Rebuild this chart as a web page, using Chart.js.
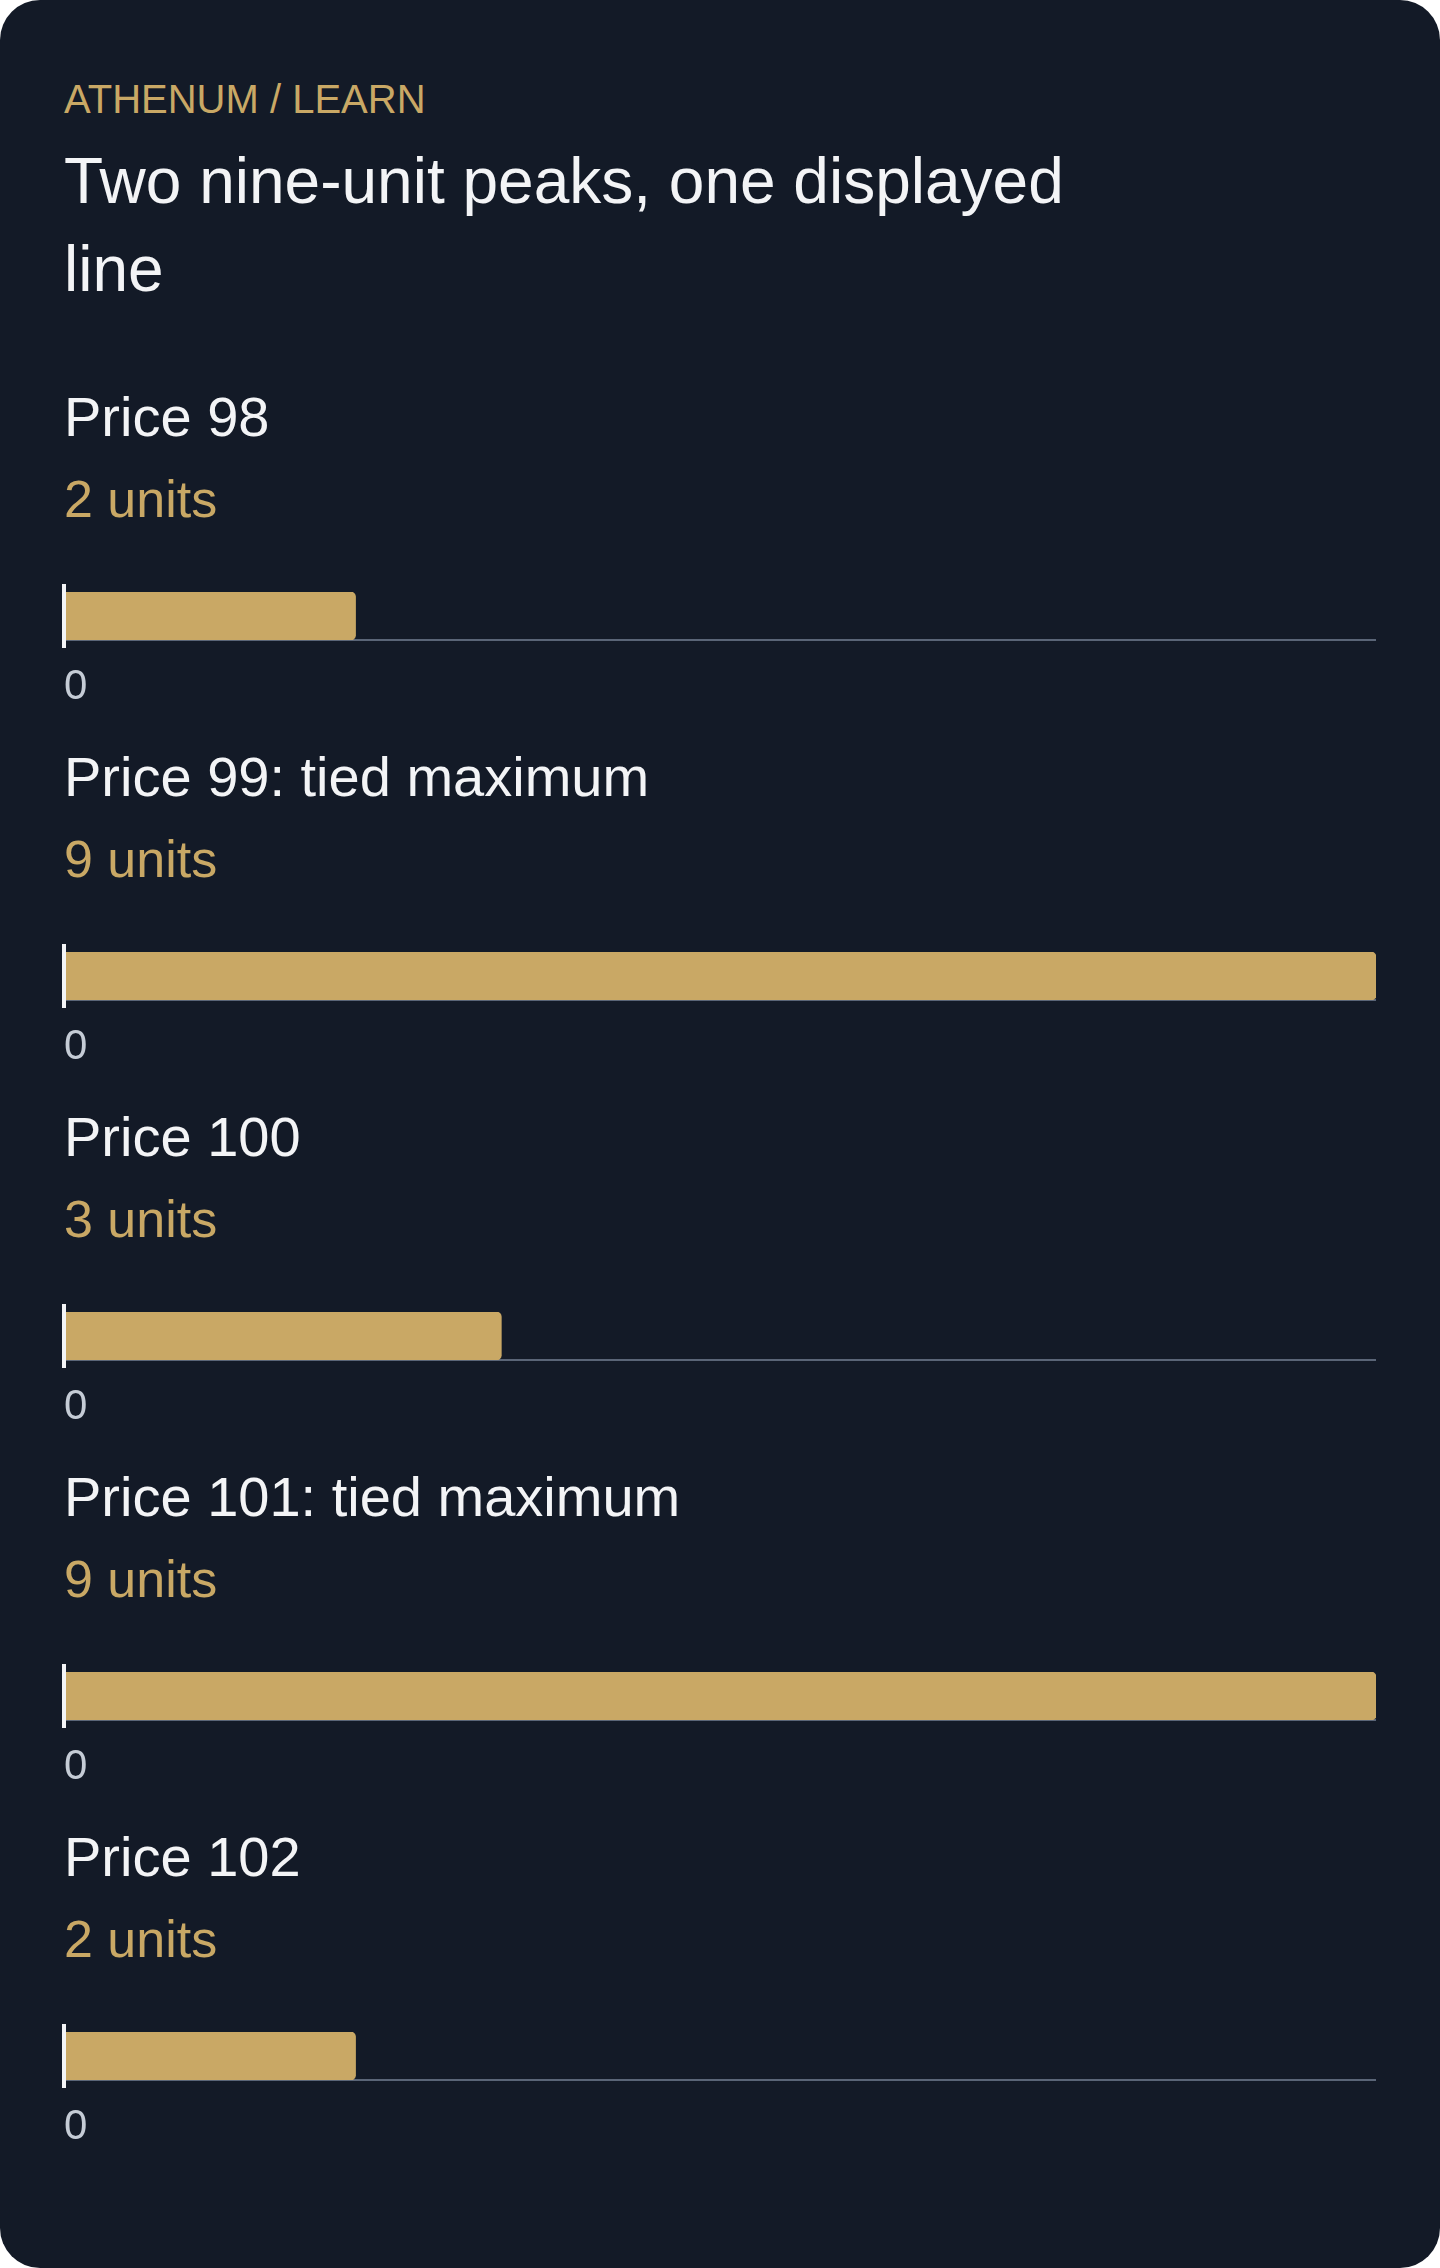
<!DOCTYPE html>
<html>
<head>
<meta charset="utf-8">
<script src="https://cdn.jsdelivr.net/npm/chart.js@4.4.1/dist/chart.umd.min.js"></script>
<style>
  html, body { margin: 0; padding: 0; background: #ffffff; }
  .card {
    position: relative;
    width: 1440px; height: 2268px; box-sizing: border-box;
    background: #131a27; border-radius: 40px; overflow: hidden;
    padding: 74.6px 64px 0 64px;
    font-family: "Liberation Sans", Arial, Helvetica, sans-serif;
  }
  .eyebrow { color: #c9a865; font-size: 40px; line-height: 48px; margin: 0; }
  .title { color: #f3f4f6; font-size: 64px; line-height: 87.5px; font-weight: 400; margin: 15.5px 0 0 0; max-width: 1060px; }
  .row { position: relative; height: 360px; }
  #rows { position: absolute; left: 64px; top: 380.6px; right: 64px; }
  .price { color: #f3f4f6; font-size: 56px; line-height: 72px; margin: 0; }
  .units { color: #c9a865; font-size: 52px; line-height: 72px; margin: 10px 0 0 0; }
  .row canvas { position: absolute; left: -20px; top: 195.4px; }
</style>
</head>
<body>
<div class="card">
  <p class="eyebrow">ATHENUM / LEARN</p>
  <h1 class="title">Two nine-unit peaks, one displayed line</h1>
  <div id="rows"></div>
</div>
<script>
const prices = [98, 99, 100, 101, 102];
const units = [2, 9, 3, 9, 2];
const tickLabels = ['0'];
const maxUnits = Math.max(...units);

const GOLD = '#c9a865';
const ZERO_LINE = '#f3f4f6';
const AXIS = '#5a6577';
const TICK = '#c5ccd6';
const AXIS_BOX = 80;

const zeroLinePlugin = {
  id: 'zeroLine',
  afterDatasetsDraw(chart) {
    const {ctx, chartArea, scales} = chart;
    const x = scales.x.getPixelForValue(0);
    ctx.save();
    ctx.fillStyle = ZERO_LINE;
    ctx.fillRect(x - 2, chartArea.top - 8, 4, chartArea.bottom - chartArea.top + 16);
    ctx.restore();
  }
};

const rowsEl = document.getElementById('rows');
prices.forEach((p, i) => {
  const tied = units[i] === maxUnits && units.filter(u => u === maxUnits).length > 1;
  const row = document.createElement('div');
  row.className = 'row';
  const h = document.createElement('p');
  h.className = 'price';
  h.textContent = 'Price ' + p + (tied ? ': tied maximum' : '');
  const u = document.createElement('p');
  u.className = 'units';
  u.textContent = units[i] + ' units';
  const c = document.createElement('canvas');
  c.width = 1332; c.height = 144;
  c.style.width = '1332px'; c.style.height = '144px';
  row.appendChild(h); row.appendChild(u); row.appendChild(c);
  rowsEl.appendChild(row);

  new Chart(c, {
    type: 'bar',
    data: {
      labels: ['Price ' + p],
      datasets: [{
        data: [units[i]],
        backgroundColor: GOLD,
        borderRadius: 5,
        borderSkipped: 'start',
        categoryPercentage: 1,
        barPercentage: 1
      }]
    },
    options: {
      indexAxis: 'y',
      responsive: false,
      devicePixelRatio: 1,
      animation: false,
      layout: { padding: { left: 20, top: 16, right: 0, bottom: 0 } },
      plugins: { legend: { display: false }, tooltip: { enabled: false } },
      scales: {
        y: { display: false },
        x: {
          min: 0, max: maxUnits,
          afterBuildTicks: (scale) => { scale.ticks = tickLabels.map(t => ({ value: Number(t) })); },
          afterFit: (scale) => { scale.height = AXIS_BOX; },
          grid: { drawOnChartArea: false, drawTicks: true, tickLength: 8, color: 'rgba(0,0,0,0)' },
          border: { display: true, color: AXIS, width: 2 },
          ticks: {
            align: 'start', padding: 14, color: TICK,
            font: { family: '"Liberation Sans", Arial, sans-serif', size: 42 },
            callback: (v) => String(v)
          }
        }
      }
    },
    plugins: [zeroLinePlugin]
  });
});
</script>
</body>
</html>
